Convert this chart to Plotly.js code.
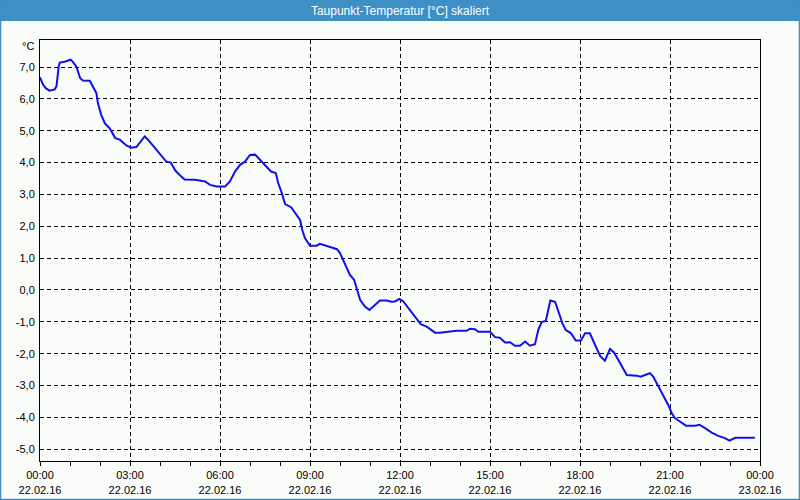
<!DOCTYPE html>
<html>
<head>
<meta charset="utf-8">
<script src="https://cdn.plot.ly/plotly-3.0.1.min.js"></script>
<style>
html,body{margin:0;padding:0;background:#fafcfa;}
#chart{width:800px;height:500px;}
</style>
</head>
<body>
<div id="chart"></div>
<script>
// Hours since 22.02.16 00:00
const hours = [0.0,0.1,0.2,0.32,0.49,0.55,0.62,0.66,0.82,0.95,1.02,1.08,1.21,1.34,1.43,1.66,1.77,1.88,1.93,2.04,2.16,2.32,2.51,2.66,2.88,3.04,3.21,3.49,3.6,3.88,4.04,4.21,4.36,4.51,4.71,4.82,5.17,5.5,5.67,5.89,6.17,6.33,6.5,6.67,6.83,7.0,7.17,7.33,7.56,7.7,7.86,7.94,8.06,8.17,8.37,8.56,8.67,8.74,8.83,9.0,9.22,9.33,9.56,9.78,9.9,10.0,10.17,10.33,10.47,10.56,10.67,10.83,10.98,11.11,11.33,11.56,11.72,11.83,11.98,12.11,12.28,12.44,12.58,12.69,12.89,13.0,13.17,13.33,13.56,13.89,14.22,14.33,14.5,14.61,15.0,15.17,15.33,15.5,15.67,15.83,16.0,16.17,16.33,16.5,16.61,16.72,16.86,16.92,17.01,17.17,17.28,17.41,17.52,17.7,17.86,18.03,18.17,18.33,18.5,18.67,18.83,19.0,19.14,19.28,19.44,19.56,19.89,20.02,20.17,20.33,20.44,20.61,20.78,20.94,21.06,21.17,21.33,21.53,21.83,21.98,22.17,22.39,22.61,22.83,22.98,23.17,23.83];
const dewpoint = [6.68,6.45,6.33,6.26,6.30,6.40,7.0,7.14,7.17,7.20,7.23,7.18,7.02,6.65,6.58,6.57,6.39,6.18,5.87,5.50,5.24,5.08,4.77,4.72,4.54,4.47,4.49,4.82,4.72,4.40,4.19,4.03,4.00,3.75,3.56,3.47,3.46,3.41,3.30,3.25,3.25,3.41,3.72,3.93,4.03,4.24,4.25,4.09,3.88,3.72,3.67,3.36,3.04,2.70,2.60,2.36,2.20,1.89,1.63,1.39,1.39,1.45,1.39,1.33,1.28,1.16,0.79,0.47,0.32,0.0,-0.31,-0.52,-0.63,-0.52,-0.33,-0.33,-0.37,-0.36,-0.28,-0.36,-0.57,-0.78,-0.94,-1.07,-1.15,-1.23,-1.34,-1.34,-1.31,-1.28,-1.28,-1.22,-1.23,-1.31,-1.31,-1.48,-1.50,-1.65,-1.64,-1.75,-1.75,-1.62,-1.75,-1.70,-1.25,-1.01,-0.97,-0.68,-0.33,-0.37,-0.68,-1.04,-1.25,-1.36,-1.59,-1.59,-1.36,-1.36,-1.72,-2.07,-2.22,-1.85,-1.97,-2.20,-2.51,-2.67,-2.69,-2.72,-2.67,-2.61,-2.72,-3.03,-3.30,-3.61,-3.87,-4.03,-4.13,-4.26,-4.26,-4.23,-4.34,-4.48,-4.58,-4.65,-4.73,-4.64,-4.64];

const xTickVals = [0,3,6,9,12,15,18,21,24];
const xTickText = ['00:00<br>22.02.16','03:00<br>22.02.16','06:00<br>22.02.16','09:00<br>22.02.16','12:00<br>22.02.16','15:00<br>22.02.16','18:00<br>22.02.16','21:00<br>22.02.16','00:00<br>23.02.16'];
const xMinorVals = [1,2,4,5,7,8,10,11,13,14,16,17,19,20,22,23];
const yTickVals = [-5,-4,-3,-2,-1,0,1,2,3,4,5,6,7];
const yTickText = ['-5,0','-4,0','-3,0','-2,0','-1,0','0,0','1,0','2,0','3,0','4,0','5,0','6,0','7,0'];

const FONT = 'Tahoma, "Liberation Sans", "DejaVu Sans", sans-serif';
const blue = '#3d8fc6';

const trace = {
  x: hours, y: dewpoint, type: 'scatter', mode: 'lines',
  line: {color: '#1010ee', width: 2}, hoverinfo: 'skip'
};

const layout = {
  width: 800, height: 500,
  margin: {l: 40, r: 40, t: 40, b: 39},
  paper_bgcolor: '#fafcfa', plot_bgcolor: '#fafcfa',
  showlegend: false,
  font: {family: FONT, size: 11, color: '#000'},
  title: {text: 'Taupunkt-Temperatur [°C] skaliert', font: {family: FONT, size: 12, color: '#fff'},
          x: 0.5, xref: 'paper', xanchor: 'center', y: 1 - 10.5/500, yref: 'container', yanchor: 'middle'},
  xaxis: {
    range: [0, 24], tickmode: 'array', tickvals: xTickVals, ticktext: xTickText,
    showline: true, mirror: true, linecolor: '#000', linewidth: 1,
    ticks: 'outside', ticklen: 4, tickcolor: '#000', tickwidth: 1,
    showgrid: true, gridcolor: '#000', gridwidth: 1, griddash: '4px,3px',
    zeroline: false, tickfont: {family: FONT, size: 11, color: '#000'},
    minor: {tickmode: 'array', tickvals: xMinorVals, ticks: 'outside', ticklen: 4, tickcolor: '#000', showgrid: false}
  },
  yaxis: {
    range: [-5.37, 7.85], tickmode: 'array', tickvals: yTickVals, ticktext: yTickText,
    showline: true, mirror: true, linecolor: '#000', linewidth: 1,
    ticks: '', ticklabelstandoff: 2,
    showgrid: true, gridcolor: '#000', gridwidth: 1, griddash: '4px,3px',
    zeroline: false, tickfont: {family: FONT, size: 11, color: '#000'}
  },
  shapes: [
    {type: 'rect', xref: 'paper', yref: 'paper', x0: -40/720, x1: 760/720, y0: 440/421, y1: 461/421 + 0.01,
     fillcolor: blue, line: {width: 0}, layer: 'below'},
    {type: 'rect', xref: 'paper', yref: 'paper', x0: -40/720 + 0.5/720, x1: 760/720 - 0.5/720, y0: -39/421 + 0.5/421, y1: 461/421,
     fillcolor: 'rgba(0,0,0,0)', line: {color: blue, width: 1.5}, layer: 'below'}
  ],
  annotations: [
    {text: '°C', xref: 'paper', yref: 'paper', x: -4/720, y: (461-46)/421, xanchor: 'right', yanchor: 'middle',
     showarrow: false, font: {family: FONT, size: 11, color: '#000'}}
  ]
};

Plotly.newPlot('chart', [trace], layout, {staticPlot: true, displayModeBar: false});
</script>
</body>
</html>
